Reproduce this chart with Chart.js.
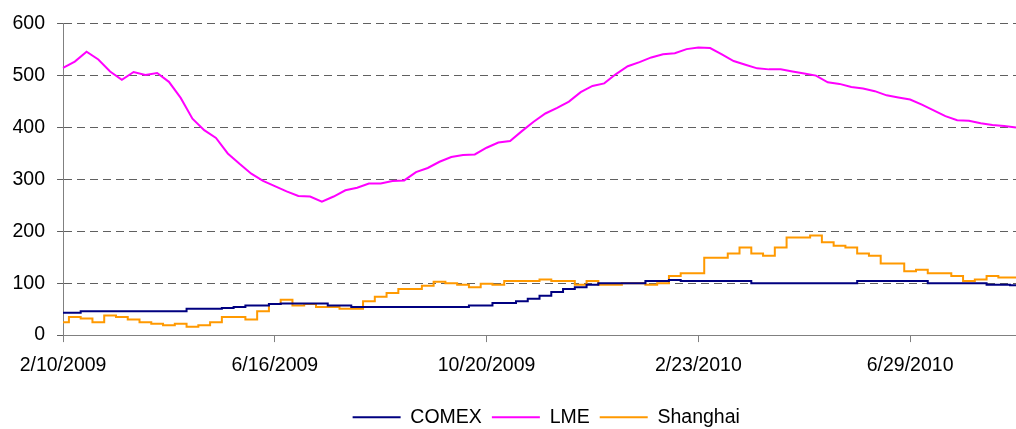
<!DOCTYPE html>
<html lang="en">
<head>
  <meta charset="UTF-8">
  <title>COMEX / LME / Shanghai</title>
  <style>
    html, body {
      margin: 0;
      padding: 0;
      background: #fff;
    }

    .chart-container {
      width: 1016px;
      height: 429px;
    }
  </style>
  <script src="https://cdn.jsdelivr.net/npm/chart.js"></script>
</head>
<body>
  <div class="chart-container">
    <canvas id="chart"></canvas>
  </div>

  <script>
    // weekly dates, starting Tuesday 2/10/2009
    const startDate = Date.UTC(2009, 1, 10);
    const weekCount = 82;
    const dates = [];
    for (let i = 0; i < weekCount; i++) {
      const d = new Date(startDate + i * 7 * 86400000);
      dates.push((d.getUTCMonth() + 1) + '/' + d.getUTCDate() + '/' + d.getUTCFullYear());
    }
    // a label every 18 weeks: 2/10/2009, 6/16/2009, 10/20/2009, 2/23/2010, 6/29/2010
    const labelEvery = 18;

    const comex = [
      43, 43, 46, 46, 46, 46, 46, 46, 46, 46,
      46, 51, 51, 51, 52, 54, 57, 57, 60, 61,
      61, 61, 61, 57, 57, 54, 54, 54, 54, 54,
      54, 54, 54, 54, 54, 57, 57, 62, 62, 65,
      70, 76, 83, 89, 92, 97, 100, 100, 100, 100,
      104, 104, 106, 104, 104, 104, 104, 104, 104, 100,
      100, 100, 100, 100, 100, 100, 100, 100, 104, 104,
      104, 104, 104, 104, 100, 100, 100, 100, 100, 97,
      97, 96
    ];

    const lme = [
      515, 527, 546, 531, 508, 492, 507, 501, 505, 488,
      457, 417, 395, 380, 350, 330, 311, 297, 287, 277,
      268, 267, 257, 267, 279, 284, 292, 292, 297, 298,
      314, 322, 334, 343, 347, 348, 361, 371, 374, 393,
      411, 427, 438, 450, 468, 480, 485, 503, 518, 526,
      535, 541, 543, 551, 554, 553, 541, 528, 521, 514,
      512, 512, 508, 504, 500, 487, 484, 478, 475, 470,
      462, 458, 454, 444, 433, 422, 414, 413, 408, 405,
      403, 400
    ];

    const shanghai = [
      25, 35, 32, 25, 38, 35, 30, 25, 22, 19,
      22, 16, 19, 25, 35, 35, 30, 46, 60, 68,
      57, 60, 54, 54, 51, 51, 65, 74, 81, 89,
      89, 95, 103, 100, 97, 92, 99, 97, 104, 104,
      104, 107, 104, 104, 97, 104, 97, 97, 100, 100,
      97, 100, 114, 119, 119, 149, 149, 157, 169, 157,
      153, 169, 188, 188, 192, 179, 172, 169, 157, 153,
      138, 138, 123, 126, 119, 119, 114, 104, 107, 114,
      111, 111
    ];

    Chart.defaults.font.family = '"Liberation Sans", Arial, sans-serif';
    Chart.defaults.font.size = 19.5;
    Chart.defaults.color = '#000';

    // nudge the legend to where it sits in the original
    const legendShift = {
      id: 'legendShift',
      afterLayout(chart) {
        const lg = chart.legend;
        lg.left += 38;
        lg.right += 38;
        lg.top += 8;
        lg.bottom += 8;
      }
    };

    const ctx = document.getElementById('chart').getContext('2d');
    const chart = new Chart(ctx, {
      type: 'line',
      data: {
        labels: dates,
        datasets: [
          {
            label: 'COMEX',
            data: comex,
            borderColor: '#000080',
            backgroundColor: '#000080',
            borderWidth: 2,
            stepped: 'middle',
          },
          {
            label: 'LME',
            data: lme,
            borderColor: '#FF00FF',
            backgroundColor: '#FF00FF',
            borderWidth: 2,
          },
          {
            label: 'Shanghai',
            data: shanghai,
            borderColor: '#FF9900',
            backgroundColor: '#FF9900',
            borderWidth: 2,
            stepped: 'middle',
          },
        ],
      },
      options: {
        responsive: true,
        maintainAspectRatio: false,
        animation: false,
        events: [],
        elements: {
          point: { radius: 0 },
          line: { tension: 0, fill: false },
        },
        layout: {
          padding: { left: 0.5, top: 21, right: 0, bottom: 0 },
        },
        scales: {
          x: {
            grid: {
              drawOnChartArea: false,
              drawTicks: true,
              tickLength: 7,
              color: '#808080',
            },
            border: { color: '#808080', width: 1 },
            ticks: {
              autoSkip: false,
              maxRotation: 0,
              minRotation: 0,
              padding: 12,
              callback: function (value, index) {
                return index % labelEvery === 0 ? this.getLabelForValue(value) : null;
              },
            },
          },
          y: {
            min: 0,
            max: 600,
            grid: {
              color: '#606060',
              lineWidth: 1,
              tickLength: 6,
              borderDash: [8, 5],
            },
            border: { color: '#808080', width: 1, dash: [8, 5] },
            ticks: {
              stepSize: 100,
              padding: 12,
            },
          },
        },
        plugins: {
          tooltip: { enabled: false },
          legend: {
            position: 'bottom',
            labels: {
              boxWidth: 48,
              boxHeight: 2,
              padding: 10,
              generateLabels(chart) {
                return Chart.defaults.plugins.legend.labels.generateLabels(chart)
                  .map(item => Object.assign(item, { lineWidth: 0 }));
              },
            },
          },
        },
      },
      plugins: [legendShift],
    });
  </script>
</body>
</html>
